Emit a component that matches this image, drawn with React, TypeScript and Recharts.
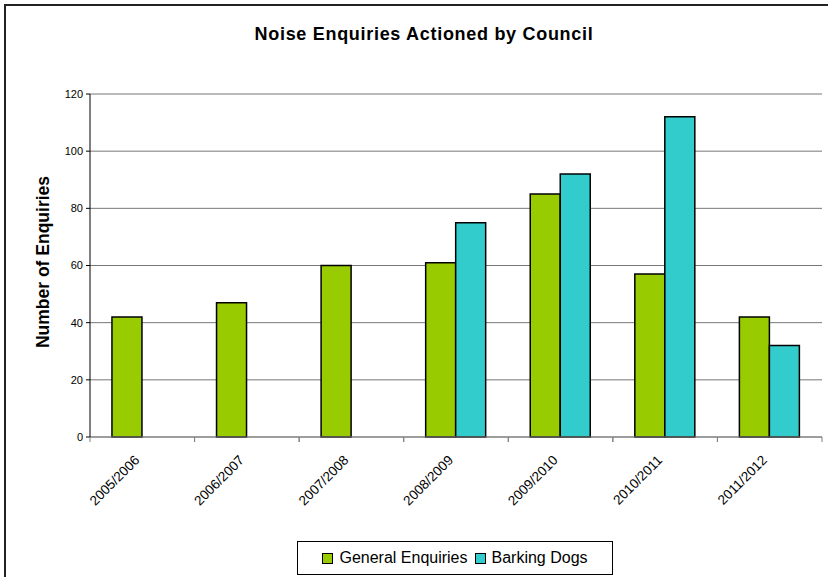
import { BarChart, Bar, XAxis, YAxis, CartesianGrid } from 'recharts';

const years = ['2005/2006', '2006/2007', '2007/2008', '2008/2009', '2009/2010', '2010/2011', '2011/2012'];
const generalEnquiries = [42, 47, 60, 61, 85, 57, 42];
const barkingDogs: (number | null)[] = [null, null, null, 75, 92, 112, 32];
const yTicks = [0, 20, 40, 60, 80, 100, 120];

const data = years.map((year, i) => ({
  year,
  general: generalEnquiries[i],
  barking: barkingDogs[i],
}));

const W = 828;
const H = 577;
const margin = { top: 94, right: 6, left: 0, bottom: 40 };
const yAxisWidth = 90;
const plotWidth = W - margin.left - margin.right - yAxisWidth;
const band = plotWidth / years.length;

const font = 'Arial, "Liberation Sans", sans-serif';

const XTick = ({ x, y, payload }: any) => (
  <g>
    <line x1={x - band / 2} y1={y - 8} x2={x - band / 2} y2={y - 3} stroke="#808080" />
    <line x1={x + band / 2} y1={y - 8} x2={x + band / 2} y2={y - 3} stroke="#808080" />
    <text
      x={x - 2}
      y={y + 16}
      transform={`rotate(-45, ${x - 2}, ${y + 16})`}
      textAnchor="end"
      fontSize={13.5}
      fontFamily={font}
      fill="#000"
    >
      {payload.value}
    </text>
  </g>
);

const swatch = (color: string) => (
  <span style={{ display: 'inline-block', width: 9, height: 9, background: color, border: '1px solid #000', marginRight: 6 }} />
);

export default function App() {
  return (
    <div style={{ position: 'absolute', left: 0, top: 0, width: W, height: H, background: '#fff', overflow: 'hidden' }}>
      <div
        style={{
          position: 'absolute',
          left: 4,
          top: 4,
          width: W + 10,
          height: H + 10,
          border: '2px solid #222',
          boxSizing: 'border-box',
        }}
      />
      <div
        style={{
          position: 'absolute',
          left: 0,
          top: 24,
          width: W + 20,
          textAlign: 'center',
          fontFamily: font,
          fontWeight: 'bold',
          fontSize: 18,
          letterSpacing: 0.7,
        }}
      >
        Noise Enquiries Actioned by Council
      </div>
      <div
        style={{
          position: 'absolute',
          left: 43,
          top: 262,
          transform: 'translate(-50%, -50%) rotate(-90deg)',
          whiteSpace: 'nowrap',
          fontFamily: font,
          fontWeight: 'bold',
          fontSize: 17.5,
        }}
      >
        Number of Enquiries
      </div>
      <div style={{ position: 'absolute', left: 0, top: 0 }}>
        <BarChart width={W} height={H} data={data} margin={margin} barCategoryGap="21%" barGap={0}>
          <CartesianGrid vertical={false} stroke="#777" />
          <XAxis
            dataKey="year"
            stroke="#808080"
            tickLine={false}
            tick={<XTick />}
            interval={0}
            height={100}
          />
          <YAxis
            width={yAxisWidth}
            domain={[0, 120]}
            ticks={yTicks}
            stroke="#000"
            tickSize={4}
            tickMargin={3}
            tick={{ fontSize: 11, fontFamily: font, fill: '#000' }}
          />
          <Bar dataKey="general" name="General Enquiries" fill="#99cc00" stroke="#000" strokeWidth={1.5} isAnimationActive={false} />
          <Bar dataKey="barking" name="Barking Dogs" fill="#33cccc" stroke="#000" strokeWidth={1.5} isAnimationActive={false} />
        </BarChart>
      </div>
      <div
        style={{
          position: 'absolute',
          left: 297,
          top: 541,
          width: 316,
          height: 34,
          boxSizing: 'border-box',
          border: '1px solid #000',
          display: 'flex',
          alignItems: 'center',
          justifyContent: 'center',
          fontFamily: font,
          fontSize: 16,
          background: '#fff',
        }}
      >
        {swatch('#99cc00')}
        <span style={{ marginRight: 7 }}>General Enquiries</span>
        {swatch('#33cccc')}
        <span>Barking Dogs</span>
      </div>
    </div>
  );
}
